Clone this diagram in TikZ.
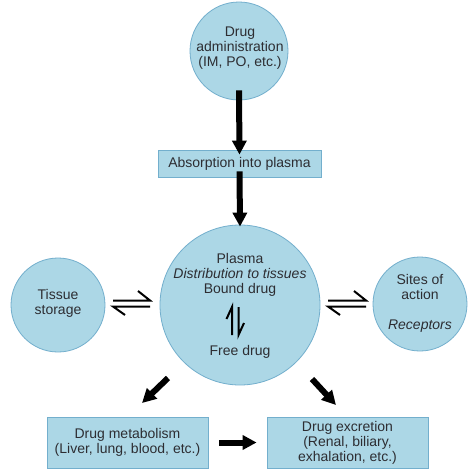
\documentclass[tikz,border=0pt]{standalone}
\usepackage{fontspec}
\setmainfont{Liberation Sans}
\usetikzlibrary{arrows.meta}
\definecolor{bfill}{RGB}{172,215,230}
\definecolor{bdraw}{RGB}{115,175,205}
\definecolor{txt}{RGB}{45,45,50}
\begin{document}
\begin{tikzpicture}[x=1pt,y=-1pt,
  every node/.style={text=txt,font=\fontsize{14}{15}\selectfont,align=center,inner sep=0pt},
  bubble/.style={circle,fill=bfill,draw=bdraw,line width=0.8pt},
  panel/.style={rectangle,fill=bfill,draw=bdraw,line width=0.8pt},
  bigarrow/.style={line width=6pt,-{Triangle[width=14pt,length=14pt]}},
  harp/.style={line width=2pt,line cap=butt}]
\useasboundingbox (0,0) rectangle (474,474);
\fill[white] (0,0) rectangle (474,474);
% nodes
\node[bubble,minimum size=98pt] (admin) at (239,51) {};
\node at (240,48) {Drug\\administration\\(IM, PO, etc.)};
\node[panel,minimum width=163pt,minimum height=27pt] (absorb) at (239.5,163.5) {Absorption into plasma};
\node[bubble,minimum size=160pt] (plasma) at (240,305) {};
\node (plasmatxt) at (240,275) {Plasma\\\textit{Distribution to tissues}\\Bound drug};
\node (freetxt) at (240,352) {Free drug};
\node[bubble,minimum size=94pt] (tissue) at (58,305) {};
\node at (58,303) {Tissue\\storage};
\node[bubble,minimum size=94pt] (sites) at (420,304) {};
\node at (420,303) {Sites of\\action\\[15pt]\textit{Receptors}};
\node[panel,minimum width=161pt,minimum height=51pt] (metab) at (127.5,442.5) {Drug metabolism\\(Liver, lung, blood, etc.)};
\node[panel,minimum width=161pt,minimum height=51pt] (excr) at (347.5,442.5) {Drug excretion\\(Renal, biliary,\\exhalation, etc.)};
% big arrows
\draw[bigarrow] ([yshift=10pt]admin.south) -- ([yshift=-5pt]absorb.north);
\draw[bigarrow] ([yshift=6pt]absorb.south) -- ([yshift=-2pt]plasma.north);
\coordinate (m1) at (168,378); \coordinate (m2) at (142,403);
\draw[bigarrow] (m1) -- (m2);
\coordinate (e1) at (312,379); \coordinate (e2) at (336,405);
\draw[bigarrow] (e1) -- (e2);
\draw[bigarrow] ([xshift=11pt]metab.east) -- ([xshift=-10pt]excr.west);
% equilibrium harpoons (left)
\coordinate (la) at (113,300.5); \coordinate (lb) at (150,300.5);
\coordinate (lc) at (113,306.5); \coordinate (ld) at (150,306.5);
\draw[harp] (la) -- (lb) -- (138,291);
\draw[harp] (ld) -- (lc) -- (125,315);
% right
\coordinate (ra) at (328,300.5); \coordinate (rb) at (366,300.5);
\coordinate (rc) at (328,306.5); \coordinate (rd) at (366,306.5);
\draw[harp] (ra) -- (rb) -- (354,291);
\draw[harp] (rd) -- (rc) -- (340,315);
% vertical
\coordinate (va) at (232,335); \coordinate (vb) at (232,307);
\coordinate (vc) at (238.5,307); \coordinate (vd) at (238.5,335);
\draw[harp] (va) -- (vb) -- (226.5,319);
\draw[harp] (vc) -- (vd) -- (244,323);
\end{tikzpicture}
\end{document}
